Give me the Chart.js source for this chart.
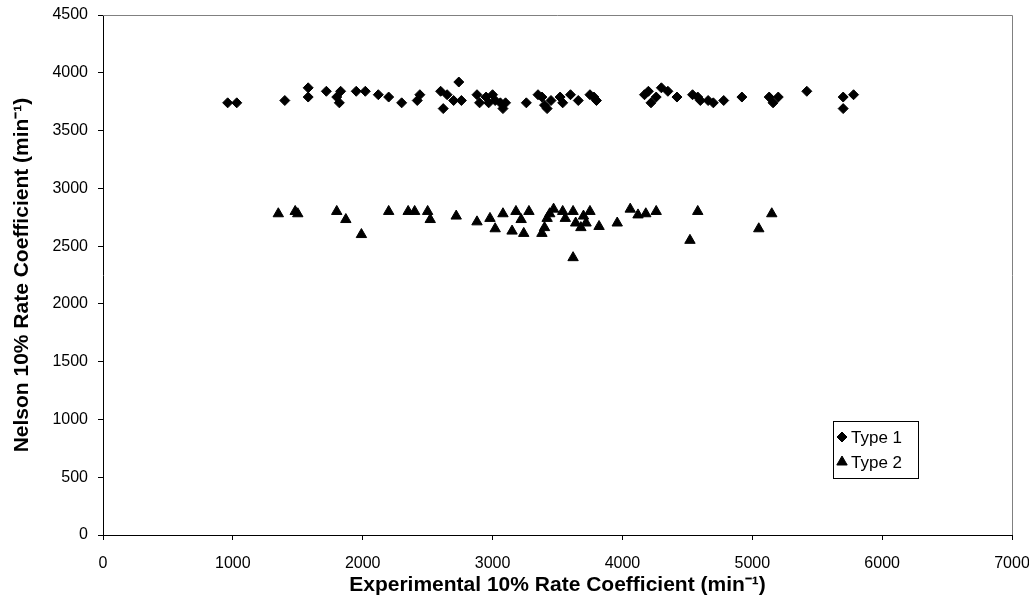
<!DOCTYPE html>
<html lang="en">
<head>
    <meta charset="UTF-8">
    <title>Nelson vs Experimental 10% Rate Coefficient</title>
    <script src="https://cdn.jsdelivr.net/npm/chart.js"></script>
    <style>
        html, body {
            margin: 0;
            padding: 0;
            background-color: #fff;
        }

        #wrap {
            width: 1029px;
            height: 606px;
        }
    </style>
</head>
<body>
    <div id="wrap">
        <canvas id="rateChart" width="1029" height="606"></canvas>
    </div>

    <script>
        // Type 1 points (experimental, nelson)
        const type1X = [960, 1030, 1400, 1580, 1580, 1720, 1800, 1820, 1830, 1950, 2020, 2120, 2200, 2300, 2420, 2440,
            2600, 2620, 2650, 2700, 2740, 2760, 2880, 2900, 2950, 2970, 3000, 3020, 3060, 3080, 3100, 3260,
            3350, 3380, 3400, 3420, 3450, 3520, 3540, 3600, 3660, 3750, 3780, 3800, 4170, 4200, 4220, 4260,
            4300, 4350, 4420, 4540, 4580, 4600, 4660, 4700, 4780, 4920, 5130, 5160, 5200, 5420, 5700, 5700, 5780];
        const type1Y = [3740, 3740, 3760, 3870, 3790, 3840, 3790, 3740, 3840, 3840, 3840, 3810, 3790, 3740, 3760, 3810,
            3840, 3690, 3810, 3760, 3920, 3760, 3810, 3740, 3790, 3740, 3810, 3760, 3740, 3690, 3740, 3740,
            3810, 3790, 3720, 3690, 3760, 3790, 3740, 3810, 3760, 3810, 3790, 3760, 3810, 3840, 3740, 3790,
            3870, 3840, 3790, 3810, 3790, 3760, 3760, 3740, 3760, 3790, 3790, 3740, 3790, 3840, 3790, 3690, 3810];

        // Type 2 points
        const type2X = [1350, 1480, 1500, 1800, 1870, 1990, 2200, 2350, 2400, 2500, 2520, 2720, 2880, 2980, 3020,
            3080, 3150, 3180, 3220, 3240, 3280, 3380, 3400, 3420, 3440, 3470, 3540, 3560, 3620, 3620, 3640,
            3680, 3700, 3720, 3750, 3820, 3960, 4060, 4120, 4180, 4260, 4520, 4580, 5050, 5150];
        const type2Y = [2780, 2800, 2780, 2800, 2730, 2600, 2800, 2800, 2800, 2800, 2730, 2760, 2710, 2740, 2650,
            2780, 2630, 2800, 2730, 2610, 2800, 2610, 2660, 2740, 2780, 2820, 2800, 2740, 2400, 2800, 2700,
            2660, 2760, 2700, 2800, 2670, 2700, 2820, 2770, 2780, 2800, 2550, 2800, 2650, 2780];

        const seriesNames = ['Type 1', 'Type 2'];

        const toPoints = (xs, ys) => xs.map((x, i) => ({ x: x, y: ys[i] }));

        const fontFamily = "'Liberation Sans', Arial, sans-serif";

        // Gray frame on top and right, legend box inside plot area
        const framePlugin = {
            id: 'frame',
            afterDraw(chart) {
                const { ctx, chartArea } = chart;
                ctx.save();
                ctx.strokeStyle = '#808080';
                ctx.lineWidth = 1;
                ctx.beginPath();
                ctx.moveTo(chartArea.left, chartArea.top + 0.5);
                ctx.lineTo(chartArea.right + 0.5, chartArea.top + 0.5);
                ctx.lineTo(chartArea.right + 0.5, chartArea.bottom);
                ctx.stroke();

                // legend
                const bx = 833, by = 421, bw = 85, bh = 57;
                ctx.strokeStyle = '#000';
                ctx.strokeRect(bx + 0.5, by + 0.5, bw, bh);
                ctx.font = '17px ' + fontFamily;
                ctx.textBaseline = 'middle';
                chart.data.datasets.forEach((ds, i) => {
                    const cy = by + 16 + i * 25;
                    ctx.fillStyle = '#000';
                    ctx.strokeStyle = '#000';
                    Chart.helpers.drawPoint(ctx, {
                        pointStyle: ds.pointStyle,
                        radius: ds.pointRadius,
                        rotation: 0,
                        borderWidth: 1
                    }, bx + 9, cy);
                    ctx.fillText(ds.label, bx + 18, cy + 1);
                });
                ctx.restore();
            }
        };

        const ctx = document.getElementById('rateChart').getContext('2d');
        new Chart(ctx, {
            type: 'scatter',
            data: {
                datasets: [
                    {
                        label: seriesNames[0],
                        data: toPoints(type1X, type1Y),
                        pointStyle: 'rectRot',
                        pointRadius: 5,
                        backgroundColor: '#000',
                        borderColor: '#000',
                        borderWidth: 1
                    },
                    {
                        label: seriesNames[1],
                        data: toPoints(type2X, type2Y),
                        pointStyle: 'triangle',
                        pointRadius: 6,
                        backgroundColor: '#000',
                        borderColor: '#000',
                        borderWidth: 1
                    }
                ]
            },
            options: {
                responsive: false,
                animation: false,
                layout: {
                    padding: { top: 15, right: 17, left: 0, bottom: 0 }
                },
                scales: {
                    x: {
                        type: 'linear',
                        min: 0,
                        max: 7000,
                        ticks: {
                            stepSize: 1000,
                            color: '#000',
                            font: { family: fontFamily, size: 16 },
                            padding: 14,
                            maxRotation: 0,
                            callback: (v) => String(v)
                        },
                        grid: {
                            drawOnChartArea: false,
                            color: '#000',
                            tickLength: 5
                        },
                        border: { color: '#000' },
                        title: {
                            display: true,
                            text: 'Experimental 10% Rate Coefficient (min\u207B\u00B9)',
                            color: '#000',
                            font: { family: fontFamily, size: 21, weight: 'bold' },
                            padding: { top: 0, bottom: 8 }
                        },
                        afterFit(scale) {
                            scale.height = 71;
                            scale.paddingLeft = 0;
                            scale.paddingRight = 0;
                        }
                    },
                    y: {
                        type: 'linear',
                        min: 0,
                        max: 4500,
                        ticks: {
                            stepSize: 500,
                            color: '#000',
                            font: { family: fontFamily, size: 16 },
                            padding: 10,
                            callback: (v) => String(v)
                        },
                        grid: {
                            drawOnChartArea: false,
                            color: '#000',
                            tickLength: 5
                        },
                        border: { color: '#000' },
                        title: {
                            display: true,
                            text: 'Nelson 10% Rate Coefficient (min\u207B\u00B9)',
                            color: '#000',
                            font: { family: fontFamily, size: 21, weight: 'bold' },
                            padding: { top: 10, bottom: 0 }
                        },
                        afterFit(scale) {
                            scale.width = 103;
                            scale.paddingTop = 0;
                            scale.paddingBottom = 0;
                        }
                    }
                },
                plugins: {
                    legend: { display: false },
                    tooltip: { enabled: false }
                }
            },
            plugins: [framePlugin]
        });
    </script>
</body>
</html>
